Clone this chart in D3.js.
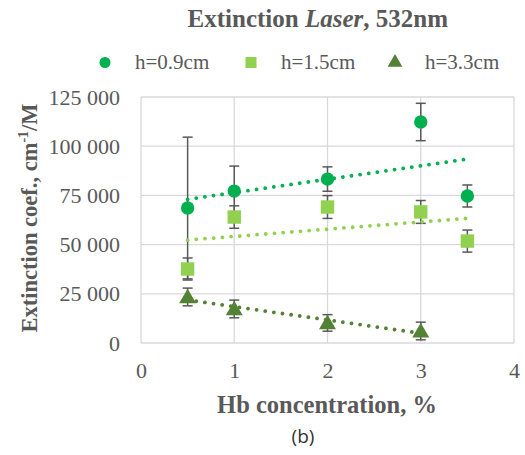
<!DOCTYPE html>
<html><head><meta charset="utf-8">
<script src="https://cdn.jsdelivr.net/npm/d3@7"></script>
<style>body{margin:0;background:#fff}svg{display:block}
svg text{font-family:"Liberation Serif","DejaVu Serif",serif;}</style>
</head><body>
<svg id="c" width="525" height="455"></svg>
<script>
const xTicks = [0, 1, 2, 3, 4];
const yTicks = [0, 25000, 50000, 75000, 100000, 125000];
const seriesNames = ["h=0.9cm", "h=1.5cm", "h=3.3cm"];
const x09 = [0.5, 1, 2, 3, 3.5];
const y09 = [68600, 77200, 83300, 112300, 74700];
const e09 = [36000, 12700, 6200, 9500, 5600];
const x15 = [0.5, 1, 2, 3, 3.5];
const y15 = [37600, 64000, 69100, 66600, 51800];
const e15 = [5600, 5700, 5800, 5800, 5600];
const x33 = [0.5, 1, 2, 3];
const y33 = [23400, 17300, 10200, 6100];
const e33 = [4500, 4500, 4200, 4500];
const colors = ["#00b050", "#92d050", "#548235"];
const shapes = [d3.symbolCircle, d3.symbolSquare, d3.symbolTriangle];
const symSizes = [140, 180, 125];

const series = [
  {name: seriesNames[0], xs: x09, ys: y09, es: e09},
  {name: seriesNames[1], xs: x15, ys: y15, es: e15},
  {name: seriesNames[2], xs: x33, ys: y33, es: e33}
];

const svg = d3.select("#c");
const txt = "#595959";
const x = d3.scaleLinear().domain([0, 4]).range([141, 514]);
const y = d3.scaleLinear().domain([0, 125000]).range([343, 97]);

// grid
svg.append("g").selectAll("line").data(yTicks).join("line")
  .attr("x1", x(0)).attr("x2", x(4)).attr("y1", d => y(d)).attr("y2", d => y(d))
  .attr("stroke", "#d9d9d9").attr("stroke-width", 1.3);
svg.append("g").selectAll("line").data(xTicks).join("line")
  .attr("y1", y(0)).attr("y2", y(125000)).attr("x1", d => x(d)).attr("x2", d => x(d))
  .attr("stroke", "#d9d9d9").attr("stroke-width", 1.3);

// axes labels
const fmt = d => d3.format(",")(d).replace(/,/g, " ");
const ya = svg.append("g").attr("transform", `translate(${x(0)},0)`)
  .call(d3.axisLeft(y).tickValues(yTicks).tickFormat(fmt).tickSize(0).tickPadding(21));
ya.select(".domain").remove();
ya.selectAll("text").attr("font-size", 22).attr("fill", txt).attr("font-family", null);
ya.attr("font-family", null);
const xa = svg.append("g").attr("transform", `translate(0,${y(0)})`)
  .call(d3.axisBottom(x).tickValues(xTicks).tickFormat(d3.format("d")).tickSize(0).tickPadding(19));
xa.select(".domain").remove();
xa.attr("font-family", null);
xa.selectAll("text").attr("font-size", 22).attr("fill", txt);

// error bars
series.forEach(s => {
  const g = svg.append("g").attr("stroke", "#595959").attr("stroke-width", 1.5);
  s.xs.forEach((xv, i) => {
    const cx = x(xv), t = y(s.ys[i] + s.es[i]), b = y(s.ys[i] - s.es[i]);
    g.append("line").attr("x1", cx).attr("x2", cx).attr("y1", t).attr("y2", b);
    g.append("line").attr("x1", cx - 5).attr("x2", cx + 5).attr("y1", t).attr("y2", t);
    g.append("line").attr("x1", cx - 5).attr("x2", cx + 5).attr("y1", b).attr("y2", b);
  });
});

// trendlines (least squares from data)
series.forEach((s, k) => {
  const mx = d3.mean(s.xs), my = d3.mean(s.ys);
  const sxy = d3.sum(s.xs, (v, i) => (v - mx) * (s.ys[i] - my));
  const sxx = d3.sum(s.xs, v => (v - mx) * (v - mx));
  const m = sxy / sxx, c = my - m * mx;
  const x0 = d3.min(s.xs), x1 = d3.max(s.xs);
  svg.append("line").attr("x1", x(x0)).attr("x2", x(x1))
    .attr("y1", y(m * x0 + c)).attr("y2", y(m * x1 + c))
    .attr("stroke", colors[k]).attr("stroke-width", 3.8)
    .attr("stroke-linecap", "round").attr("stroke-dasharray", "0.01 8.7");
});

// markers
series.forEach((s, k) => {
  svg.append("g").selectAll("path").data(s.xs).join("path")
    .attr("d", d3.symbol(shapes[k], symSizes[k]))
    .attr("transform", (d, i) => `translate(${x(d)},${y(s.ys[i]) + (k === 2 ? 1.5 : 0)})`)
    .attr("fill", colors[k]);
});

// legend
const legX = [105, 251, 395];
seriesNames.forEach((n, k) => {
  svg.append("path").attr("d", d3.symbol(shapes[k], k === 1 ? 121 : 95))
    .attr("transform", `translate(${legX[k]},${62.5})`).attr("fill", colors[k]);
  svg.append("text").attr("x", legX[k] + 30).attr("y", 69).text(n)
    .attr("font-size", 21).attr("fill", txt);
});

// title
const t = svg.append("text").attr("x", 448).attr("y", 27).attr("text-anchor", "end")
  .attr("font-size", 25).attr("font-weight", "bold").attr("fill", txt);
t.append("tspan").text("Extinction ");
t.append("tspan").attr("font-style", "italic").text("Laser");
t.append("tspan").text(", 532nm");

// axis titles
svg.append("text").attr("x", 327).attr("y", 413).attr("text-anchor", "middle")
  .attr("font-size", 24.5).attr("font-weight", "bold").attr("fill", txt)
  .text("Hb concentration, %");
const yt = svg.append("text").attr("transform", "translate(37,218) rotate(-90)").attr("text-anchor", "middle")
  .attr("font-size", 22.5).attr("font-weight", "bold").attr("fill", txt);
yt.append("tspan").text("Extinction coef., cm");
yt.append("tspan").attr("font-size", 14).attr("dy", -9).text("-1");
yt.append("tspan").attr("dy", 9).text("/M");

svg.append("text").attr("x", 303).attr("y", 443).attr("text-anchor", "middle")
  .style("font-family", "'Open Sans','Noto Sans',sans-serif")
  .attr("font-size", 19).attr("fill", "#333").text("(b)");
</script>
</body></html>
